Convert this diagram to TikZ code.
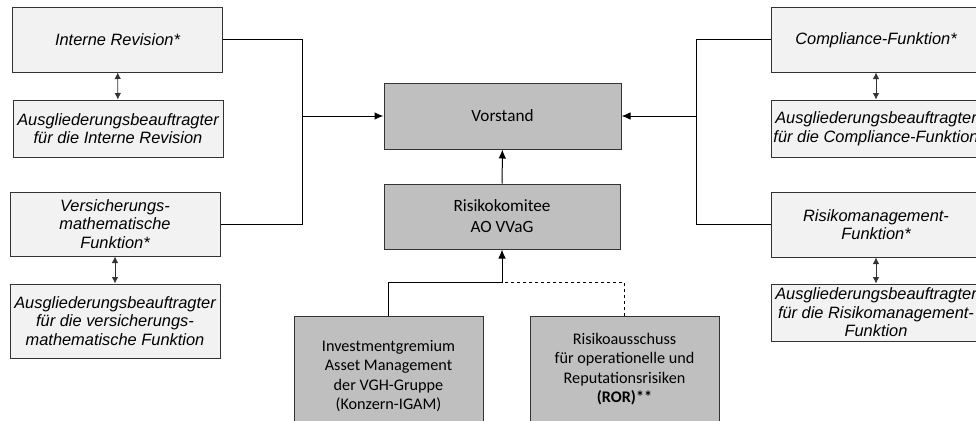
\documentclass[tikz,border=0pt]{standalone}
\usepackage{fontspec}
\setmainfont{Liberation Sans}
\newfontfamily\calibri{Carlito}
\usetikzlibrary{arrows.meta}

\begin{document}
\begin{tikzpicture}[x=1pt, y=-1pt,
  >={Latex[length=9pt, width=7.5pt]},
  fn/.style={draw=black!80, line width=1pt, fill=black!5, align=center, inner sep=0,
    minimum width=210, font=\fontsize{16.4}{18.6}\selectfont\itshape},
  gremium/.style={draw=black!80, line width=1pt, fill=black!25, align=center, inner sep=0,
    font=\calibri\fontsize{16.2}{19.6}\selectfont},
  big/.style={font=\calibri\fontsize{17.2}{21}\selectfont},
  link/.style={line width=1pt},
  pair/.style={line width=0.8pt, black!80, {Latex[length=6.5pt, width=6.5pt]}-{Latex[length=6.5pt, width=6.5pt]}}]
  \useasboundingbox (0, 0) rectangle (976, 420);
  \clip (0, 0) rectangle (976, 420);

  % left column
  \node[fn, minimum height=64]
    (ir) at (117.5, 40) {Interne Revision*};
  \node[fn, minimum height=57]
    (irA) at (118, 128.5) {Ausgliederungsbeauftragter\\f\"ur die Interne Revision};
  \node[fn, minimum height=64]
    (vmf) at (115, 224) {Versicherungs-\\mathematische\\Funktion*};
  \node[fn, minimum height=74]
    (vmfA) at (115, 321) {Ausgliederungsbeauftragter\\f\"ur die versicherungs-\\mathematische Funktion};

  % right column
  \node[fn, minimum height=64]
    (cf) at (876, 40) {Compliance-Funktion*};
  \node[fn, minimum height=57]
    (cfA) at (876, 128.5) {Ausgliederungsbeauftragter\\f\"ur die Compliance-Funktion};
  \node[fn, minimum height=65]
    (rm) at (876, 224.5) {Risikomanagement-\\Funktion*};
  \node[fn, minimum height=57]
    (rmA) at (876, 312.5) {Ausgliederungsbeauftragter\\f\"ur die Risikomanagement-\\Funktion};

  % centre
  \node[gremium, big, minimum width=237, minimum height=66]
    (vs) at (502.5, 116) {Vorstand};
  \node[gremium, big, minimum width=236, minimum height=65]
    (rk) at (502, 216.5) {Risikokomitee\\AO VVaG};
  \node[gremium, minimum width=189, minimum height=120]
    (igam) at (388.5, 376) {Investmentgremium\\Asset Management\\der VGH-Gruppe\\(Konzern-IGAM)};
  \node[gremium, minimum width=189, minimum height=106]
    (ror) at (624.5, 369) {Risikoausschuss\\f\"ur operationelle und\\Reputationsrisiken\\\textbf{(ROR)**}};

  \coordinate (L1) at (302, 40);
  \coordinate (L2) at (302, 116);
  \coordinate (R1) at (696, 40);
  \coordinate (R2) at (696, 116);
  \coordinate (J1) at (502, 282);

  \draw[link]
    (ir.east) -- (L1) |- (vmf.east)
    (cf.west) -- (R1) |- (rm.west);

  \draw[link, ->]
    (L2) -- (vs.west);
  \draw[link, ->]
    (R2) -- (vs.east);

  \draw[pair]
    (ir) edge (irA)
    (vmf) edge (vmfA)
    (cf) edge (cfA)
    (rm) edge (rmA);

  \draw[link, ->]
    (rk) -- (vs);

  \draw[link, ->]
    (igam.north) |- (J1) -- (rk.south);

  \draw[link, dashed]
    (ror.north) |- (J1);
\end{tikzpicture}
\end{document}
